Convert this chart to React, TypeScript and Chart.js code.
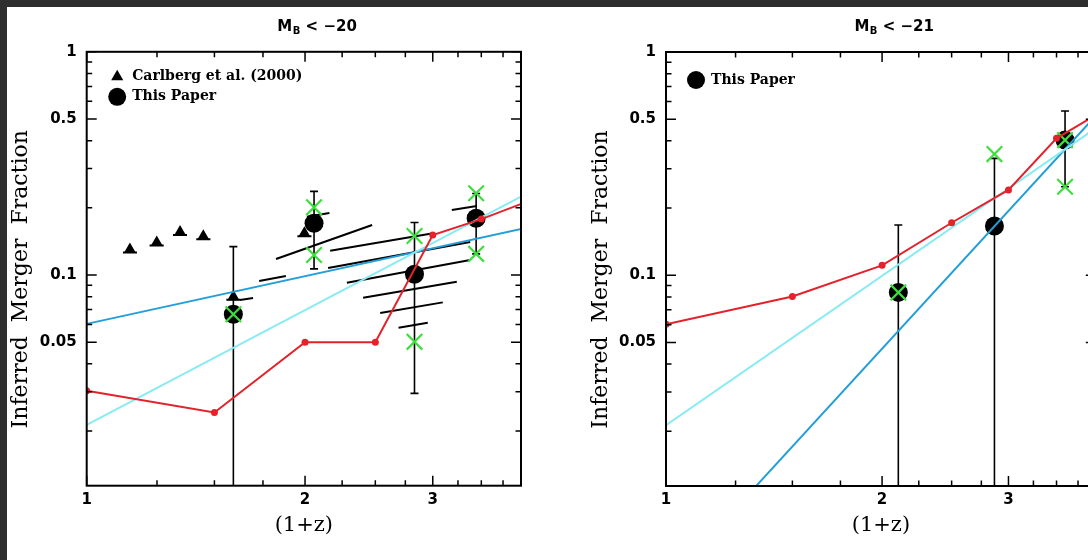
import React, { useEffect, useRef } from 'react';
import { Chart, registerables } from 'chart.js';
Chart.register(...registerables);

// ---------- shared axis definitions ----------
const xMin = 1;
const xMax = 3.97;
const yMin = 0.01138;
const yMax = 1;
const xMajorTicks = [1, 2, 3];
const xTickLabels = ['1', '2', '3'];
const xMinorTicks = [1.25, 1.5, 1.75, 2.25, 2.5, 2.75, 3.25, 3.5, 3.75];
const yMajorTicks = [0.05, 0.1, 0.5, 1];
const yTickLabels = ['0.05', '0.1', '0.5', '1'];
const yMinorTicks = [0.02, 0.03, 0.04, 0.06, 0.07, 0.08, 0.09, 0.2, 0.3, 0.4, 0.6, 0.7, 0.8, 0.9];
const xAxisTitle = '(1+z)';
const yAxisTitle = 'Inferred  Merger  Fraction   ';
const fitX = [1, 4];

// ---------- left panel: M_B < -20 ----------
const leftTitleValue = '−20';
const leftPaperX = [1.593, 2.058, 2.831, 3.443];
const leftPaperY = [0.0667, 0.1705, 0.1007, 0.1795];
const leftPaperHi = [0.134, 0.237, 0.172, 0.232];
const leftPaperLo = [0.001, 0.1065, 0.0295, 0.1244];
const leftCrossX = [1.593, 2.058, 2.058, 2.831, 2.831, 3.443, 3.443];
const leftCrossY = [0.0667, 0.201, 0.123, 0.1496, 0.0502, 0.2323, 0.1244];
const carlbergX = [1.147, 1.249, 1.345, 1.448, 1.593, 1.996];
const carlbergY = [0.130, 0.140, 0.156, 0.149, 0.080, 0.154];
const carlbergXLo = [1.122, 1.221, 1.315, 1.416, 1.558, 1.952];
const carlbergXHi = [1.173, 1.277, 1.375, 1.481, 1.629, 2.041];
const leftRedX = [1, 1.5, 2, 2.5, 3, 3.5, 4];
const leftRedY = [0.0303, 0.0242, 0.050, 0.050, 0.151, 0.178, 0.21];
const leftCyanY = [0.0213, 0.2275];
const leftBlueY = [0.0604, 0.1617];
const leftSegX1 = [1.729, 1.824, 2.012, 2.166, 2.152, 2.284, 2.405, 2.539, 2.691, 3.187, 1.627];
const leftSegY1 = [0.0940, 0.1179, 0.1824, 0.1285, 0.1075, 0.0924, 0.0791, 0.0676, 0.0581, 0.1955, 0.0773];
const leftSegX2 = [1.882, 2.475, 2.161, 3.004, 3.379, 3.379, 3.238, 3.097, 2.953, 3.451, 1.696];
const leftSegY2 = [0.0990, 0.1675, 0.1896, 0.1537, 0.1405, 0.1167, 0.0933, 0.0754, 0.0611, 0.2037, 0.0789];

// ---------- right panel: M_B < -21 ----------
const rightTitleValue = '−21';
const rightPaperX = [2.107, 2.868, 3.597];
const rightPaperY = [0.0838, 0.1662, 0.403];
const rightPaperHi = [0.168, 0.334, 0.544];
const rightPaperLo = [0.001, 0.001, 0.249];
const rightCrossX = [2.107, 2.868, 3.597, 3.597];
const rightCrossY = [0.0838, 0.349, 0.403, 0.249];
const rightRedX = [1, 1.5, 2, 2.5, 3, 3.5, 4];
const rightRedY = [0.0604, 0.0804, 0.1108, 0.1719, 0.241, 0.4106, 0.53];
const rightCyanY = [0.0213, 0.464];
const rightBlueY = [0.00413, 0.532];

const GREEN = '#3ede3e';
const RED = '#e3222b';
const CYAN = '#88ebf3';
const BLUE = '#239fd8';
const BLACK = '#000000';

const pts = (xs: number[], ys: number[]) => xs.map((x, i) => ({ x, y: ys[i] }));

function segData(x1: number[], y1: number[], x2: number[], y2: number[]) {
  const out: any[] = [];
  x1.forEach((x, i) => {
    out.push({ x, y: y1[i] });
    out.push({ x: x2[i], y: y2[i] });
    out.push({ x: x2[i], y: null });
  });
  return out;
}

type PanelCfg = {
  titleValue: string;
  paperX: number[]; paperY: number[]; paperHi: number[]; paperLo: number[];
  crossX: number[]; crossY: number[];
  triX?: number[]; triY?: number[]; triXLo?: number[]; triXHi?: number[];
  redX: number[]; redY: number[];
  cyanY: number[]; blueY: number[];
  seg?: any[];
  legend: { marker: string; dx: number; dy: number; text: string }[];
  area: { left: number; top: number; right: number; bottom: number };
};

function buildDatasets(p: PanelCfg) {
  const ds: any[] = [];
  ds.push({ label: 'model', data: pts(p.redX, p.redY), borderColor: RED, backgroundColor: RED, borderWidth: 2,
    pointRadius: 3.5, pointBorderWidth: 0, showLine: true, order: 1, clip: 0 });
  ds.push({ label: 'fit1', data: pts(fitX, p.cyanY), borderColor: CYAN, borderWidth: 2, pointRadius: 0, showLine: true, order: 2, clip: 0 });
  ds.push({ label: 'fit2', data: pts(fitX, p.blueY), borderColor: BLUE, borderWidth: 2, pointRadius: 0, showLine: true, order: 2, clip: 0 });
  ds.push({ label: 'cross', data: pts(p.crossX, p.crossY), showLine: false, pointStyle: 'crossRot', pointRadius: 11,
    borderColor: GREEN, pointBorderColor: GREEN, pointBorderWidth: 2.2, order: 3 });
  ds.push({ label: 'This Paper', data: pts(p.paperX, p.paperY), showLine: false, pointStyle: 'circle', pointRadius: 9.5,
    backgroundColor: BLACK, pointBackgroundColor: BLACK, pointBorderWidth: 0, order: 4 });
  if (p.seg) {
    ds.push({ label: 'segments', data: p.seg, borderColor: BLACK, borderWidth: 2, pointRadius: 0, showLine: true,
      spanGaps: false, order: 5, clip: 0 });
  }
  if (p.triX && p.triY) {
    ds.push({ label: 'Carlberg', data: pts(p.triX, p.triY), showLine: false, pointStyle: 'triangle', pointRadius: 7,
      backgroundColor: BLACK, pointBackgroundColor: BLACK, pointBorderWidth: 0, order: 6 });
  }
  return ds;
}

function makeDecor(p: PanelCfg) {
  return {
    id: 'decor',
    beforeDatasetsDraw(chart: any) {
      const ctx = chart.ctx;
      const { left, right, top, bottom } = chart.chartArea;
      const xs = chart.scales.x, ys = chart.scales.y;
      ctx.save();
      ctx.beginPath();
      ctx.rect(left, top, right - left, bottom - top);
      ctx.clip();
      ctx.strokeStyle = BLACK;
      ctx.lineWidth = 1.6;
      p.paperX.forEach((x, i) => {
        const px = xs.getPixelForValue(x);
        const pHi = ys.getPixelForValue(p.paperHi[i]);
        const pLo = ys.getPixelForValue(p.paperLo[i]);
        ctx.beginPath();
        ctx.moveTo(px, pLo); ctx.lineTo(px, pHi);
        ctx.moveTo(px - 4, pHi); ctx.lineTo(px + 4, pHi);
        ctx.moveTo(px - 4, pLo); ctx.lineTo(px + 4, pLo);
        ctx.stroke();
      });
      if (p.triX && p.triY && p.triXLo && p.triXHi) {
        ctx.lineWidth = 2;
        p.triX.forEach((x, i) => {
          const py = ys.getPixelForValue(p.triY![i]) + 3;
          ctx.beginPath();
          ctx.moveTo(xs.getPixelForValue(p.triXLo![i]), py);
          ctx.lineTo(xs.getPixelForValue(p.triXHi![i]), py);
          ctx.stroke();
        });
      }
      ctx.restore();
    },
    afterDraw(chart: any) {
      const ctx = chart.ctx;
      const { left, right, top, bottom } = chart.chartArea;
      const xs = chart.scales.x, ys = chart.scales.y;
      ctx.save();
      ctx.strokeStyle = BLACK;
      ctx.lineWidth = 1.5;
      const tickX = (v: number, len: number) => {
        const px = xs.getPixelForValue(v);
        ctx.beginPath();
        ctx.moveTo(px, bottom); ctx.lineTo(px, bottom - len);
        ctx.moveTo(px, top); ctx.lineTo(px, top + len);
        ctx.stroke();
      };
      const tickY = (v: number, len: number) => {
        const py = ys.getPixelForValue(v);
        ctx.beginPath();
        ctx.moveTo(left, py); ctx.lineTo(left + len, py);
        ctx.moveTo(right, py); ctx.lineTo(right - len, py);
        ctx.stroke();
      };
      xMajorTicks.forEach(v => tickX(v, 10));
      xMinorTicks.forEach(v => tickX(v, 5.5));
      yMajorTicks.forEach(v => tickY(v, 10));
      yMinorTicks.forEach(v => tickY(v, 5.5));
      ctx.lineWidth = 2;
      ctx.strokeRect(left, top, right - left, bottom - top);

      // title with subscript
      const mainFont = 'bold 15px "DejaVu Sans"';
      const subFont = 'bold 10px "DejaVu Sans"';
      ctx.fillStyle = BLACK;
      ctx.textBaseline = 'middle';
      ctx.textAlign = 'left';
      ctx.font = mainFont;
      const wM = ctx.measureText('M').width;
      const rest = ' < ' + p.titleValue;
      const wR = ctx.measureText(rest).width;
      ctx.font = subFont;
      const wB = ctx.measureText('B').width;
      const total = wM + wB + wR;
      const cx = (left + right) / 2 + 13;
      const x0 = cx - total / 2;
      const ty = 27;
      ctx.font = mainFont;
      ctx.fillText('M', x0, ty);
      ctx.font = subFont;
      ctx.fillText('B', x0 + wM + 0.5, ty + 4);
      ctx.font = mainFont;
      ctx.fillText(rest, x0 + wM + wB + 0.5, ty);

      // legend
      p.legend.forEach(item => {
        const mx = left + item.dx;
        const my = top + item.dy;
        ctx.fillStyle = BLACK;
        if (item.marker === 'triangle') {
          const r = 7;
          ctx.beginPath();
          ctx.moveTo(mx, my - r);
          ctx.lineTo(mx + r * 0.866, my + r * 0.5);
          ctx.lineTo(mx - r * 0.866, my + r * 0.5);
          ctx.closePath();
          ctx.fill();
        } else {
          ctx.beginPath();
          ctx.arc(mx, my, 9, 0, Math.PI * 2);
          ctx.fill();
        }
        ctx.font = 'bold 14px "DejaVu Serif"';
        ctx.textBaseline = 'middle';
        ctx.fillText(item.text, mx + 15, my);
      });
      ctx.restore();
    },
  };
}

function makeChart(canvas: HTMLCanvasElement, p: PanelCfg) {
  const W = canvas.width, H = canvas.height;
  const a = p.area;
  return new Chart(canvas, {
    type: 'line',
    data: { datasets: buildDatasets(p) },
    options: {
      responsive: false,
      animation: false,
      events: [],
      layout: { padding: { left: 0, top: a.top, right: W - a.right, bottom: 0 } },
      plugins: { legend: { display: false }, title: { display: false }, tooltip: { enabled: false } },
      scales: {
        x: {
          type: 'logarithmic', min: xMin, max: xMax,
          grid: { display: false, drawTicks: false },
          border: { display: false },
          afterBuildTicks: (s: any) => { s.ticks = xMajorTicks.map(v => ({ value: v })); },
          afterFit: (s: any) => { s.height = H - a.bottom; },
          ticks: {
            autoSkip: false, maxRotation: 0, padding: 5, color: BLACK,
            font: { family: '"DejaVu Sans"', size: 15, weight: 'bold', lineHeight: 1.2 },
            callback: (_v: any, i: number) => xTickLabels[i],
          },
          title: {
            display: true, text: xAxisTitle, color: BLACK,
            font: { family: '"DejaVu Serif"', size: 21, lineHeight: 1.2 },
            padding: { top: 0, bottom: 22 },
          },
        },
        y: {
          type: 'logarithmic', min: yMin, max: yMax,
          grid: { display: false, drawTicks: false },
          border: { display: false },
          afterBuildTicks: (s: any) => { s.ticks = yMajorTicks.map(v => ({ value: v })); },
          afterFit: (s: any) => { s.width = a.left; },
          ticks: {
            autoSkip: false, padding: 10, color: BLACK,
            font: { family: '"DejaVu Sans"', size: 15, weight: 'bold', lineHeight: 1.2 },
            callback: (_v: any, i: number) => yTickLabels[i],
          },
          title: {
            display: true, text: yAxisTitle, color: BLACK,
            font: { family: '"DejaVu Serif"', size: 22, lineHeight: 1.2 },
            padding: { top: 8, bottom: 0 },
          },
        },
      },
    },
    plugins: [makeDecor(p)],
  } as any);
}

const leftPanel: PanelCfg = {
  titleValue: leftTitleValue,
  paperX: leftPaperX, paperY: leftPaperY, paperHi: leftPaperHi, paperLo: leftPaperLo,
  crossX: leftCrossX, crossY: leftCrossY,
  triX: carlbergX, triY: carlbergY, triXLo: carlbergXLo, triXHi: carlbergXHi,
  redX: leftRedX, redY: leftRedY, cyanY: leftCyanY, blueY: leftBlueY,
  seg: segData(leftSegX1, leftSegY1, leftSegX2, leftSegY2),
  legend: [
    { marker: 'triangle', dx: 30.5, dy: 25, text: 'Carlberg et al. (2000)' },
    { marker: 'circle', dx: 30.5, dy: 45, text: 'This Paper' },
  ],
  area: { left: 86.7, top: 51.8, right: 521, bottom: 485.7 },
};

const rightPanel: PanelCfg = {
  titleValue: rightTitleValue,
  paperX: rightPaperX, paperY: rightPaperY, paperHi: rightPaperHi, paperLo: rightPaperLo,
  crossX: rightCrossX, crossY: rightCrossY,
  redX: rightRedX, redY: rightRedY, cyanY: rightCyanY, blueY: rightBlueY,
  legend: [{ marker: 'circle', dx: 30, dy: 28, text: 'This Paper' }],
  area: { left: 86, top: 52, right: 515.8, bottom: 486 },
};

export default function App() {
  const leftRef = useRef<HTMLCanvasElement>(null);
  const rightRef = useRef<HTMLCanvasElement>(null);
  useEffect(() => {
    const c1 = makeChart(leftRef.current!, leftPanel);
    const c2 = makeChart(rightRef.current!, rightPanel);
    return () => { c1.destroy(); c2.destroy(); };
  }, []);
  return (
    <div style={{ position: 'fixed', left: 0, top: 0, width: 1088, height: 560, overflow: 'hidden', background: '#2e2e2e' }}>
      <div style={{ position: 'absolute', left: 7, top: 7, width: 1100, height: 560, background: '#ffffff' }} />
      <canvas ref={leftRef} width={560} height={560} style={{ position: 'absolute', left: 0, top: 0, display: 'block' }} />
      <canvas ref={rightRef} width={560} height={560} style={{ position: 'absolute', left: 580, top: 0, display: 'block' }} />
    </div>
  );
}
